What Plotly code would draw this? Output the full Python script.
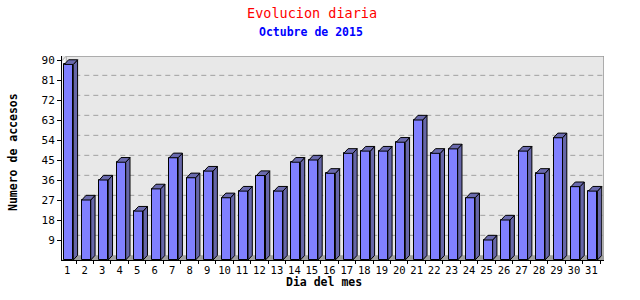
import plotly.graph_objects as go

days = list(range(1, 32))
day_labels = [str(d) for d in days]
visits = [88, 27, 36, 44, 22, 32, 46, 37, 40, 28, 31, 38, 31, 44, 45, 39,
          48, 49, 49, 53, 63, 48, 50, 28, 9, 18, 49, 39, 55, 33, 31]
y_ticks = [9, 18, 27, 36, 45, 54, 63, 72, 81, 90]

title_text = "Evolucion diaria"
subtitle_text = "Octubre de 2015"
x_title = "Dia del mes"
y_title = "Numero de accesos"

# geometry (data units)
X0, X1 = 0.699, 31.72
Y0, Y1 = 0.0, 91.8
DX, DY = 0.246, 2.1       # 3D depth
BAR_OFF, BAR_W = -0.17, 0.515

FRONT = "#8080FF"
SIDE = "#6666A8"
TOP = "#6A6AAE"
BG = "#E8E8E8"
MONO = "DejaVu Sans Mono"

fig = go.Figure()
fig.add_trace(go.Bar(
    x=days, y=visits, width=BAR_W, offset=BAR_OFF,
    marker=dict(color=FRONT, line=dict(color="black", width=1)),
    hoverinfo="x+y",
))

shapes = []
# floor
shapes.append(dict(type="path", layer="below", xref="x", yref="y",
                   path=f"M{X0},{Y0} L{X0+DX},{DY} L{X1},{DY} L{X1},{Y0} Z",
                   fillcolor="#A0A0A0", line=dict(width=0)))
# left wall
shapes.append(dict(type="path", layer="below", xref="x", yref="y",
                   path=f"M{X0},{Y0} L{X0+DX},{DY} L{X0+DX},{Y1} L{X0},{Y1-DY} Z",
                   fillcolor="#F4F4F4", line=dict(width=0)))
# back-wall gridlines
for v in y_ticks:
    shapes.append(dict(type="line", layer="below", xref="x", yref="y",
                       x0=X0 + DX, x1=X1, y0=v + DY, y1=v + DY,
                       line=dict(color="#A0A0A0", width=1, dash="5px,4px")))
# back wall border (top, right, left edge)
shapes.append(dict(type="line", layer="below", xref="x", yref="y",
                   x0=X0 + DX, x1=X1, y0=Y1, y1=Y1,
                   line=dict(color="#999999", width=1.5)))
shapes.append(dict(type="line", layer="below", xref="x", yref="y",
                   x0=X1, x1=X1, y0=DY, y1=Y1,
                   line=dict(color="#999999", width=1.5)))
shapes.append(dict(type="line", layer="below", xref="x", yref="y",
                   x0=X0 + DX, x1=X0 + DX, y0=DY, y1=Y1,
                   line=dict(color="#AAAAAA", width=1)))
shapes.append(dict(type="line", layer="below", xref="x", yref="y",
                   x0=X0, x1=X0 + DX, y0=Y1 - DY, y1=Y1,
                   line=dict(color="#AAAAAA", width=1)))

# 3D side and top faces of bars
for d, v in zip(days, visits):
    xl = d + BAR_OFF
    xr = xl + BAR_W
    shapes.append(dict(type="path", layer="above", xref="x", yref="y",
                       path=f"M{xr},0 L{xr+DX},{DY} L{xr+DX},{v+DY} L{xr},{v} Z",
                       fillcolor=SIDE, line=dict(color="black", width=1)))
    shapes.append(dict(type="path", layer="above", xref="x", yref="y",
                       path=f"M{xl},{v} L{xl+DX},{v+DY} L{xr+DX},{v+DY} L{xr},{v} Z",
                       fillcolor=TOP, line=dict(color="black", width=1)))

annotations = [
    dict(text=title_text, xref="paper", yref="paper", x=(312 - 62) / 542, y=1 + (56 - 13) / 204,
         showarrow=False, xanchor="center", yanchor="middle",
         font=dict(family=MONO, size=13.5, color="#FF0000")),
    dict(text=f"<b>{subtitle_text}</b>", xref="paper", yref="paper", x=(311 - 62) / 542,
         y=1 + (56 - 32) / 204, showarrow=False, xanchor="center", yanchor="middle",
         font=dict(family=MONO, size=11.5, color="#0000FF")),
    dict(text=f"<b>{x_title}</b>", xref="paper", yref="paper", x=(324 - 62) / 542,
         y=-(282 - 260) / 204, showarrow=False, xanchor="center", yanchor="middle",
         font=dict(family=MONO, size=11.5, color="black")),
    dict(text=f"<b>{y_title}</b>", xref="paper", yref="paper", x=-(62 - 12.5) / 542,
         y=(260 - 152.5) / 204, showarrow=False, xanchor="center", yanchor="middle",
         textangle=-90, font=dict(family=MONO, size=11.5, color="black")),
]

fig.update_layout(
    width=640, height=300,
    margin=dict(l=62, r=36, t=56, b=40, pad=0),
    paper_bgcolor="white", plot_bgcolor=BG,
    showlegend=False, bargap=0,
    shapes=shapes, annotations=annotations,
    xaxis=dict(range=[X0, X1], tickvals=days, ticktext=day_labels, ticks="",
               showgrid=False, zeroline=False, showline=True, linecolor="black",
               linewidth=1, tickfont=dict(family=MONO, size=10.5, color="black"),
               minor=dict(tickvals=[d + 0.5 for d in days], ticks="outside",
                          ticklen=3, tickcolor="black", showgrid=False)),
    yaxis=dict(range=[Y0, Y1], tickvals=y_ticks, ticks="outside", ticklen=4,
               tickcolor="black", showgrid=False, zeroline=False, showline=True,
               linecolor="black", linewidth=1,
               tickfont=dict(family=MONO, size=11, color="black")),
)

fig.write_html("out.html")
